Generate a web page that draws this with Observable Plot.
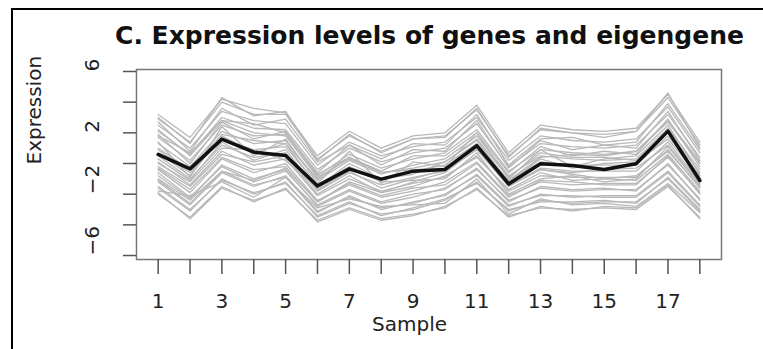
<!DOCTYPE html>
<html>
<head>
<meta charset="utf-8">
<script src="https://cdn.jsdelivr.net/npm/d3@7"></script>
<script src="https://cdn.jsdelivr.net/npm/@observablehq/plot@0.6"></script>
<style>
  html, body { margin: 0; padding: 0; background: #fff; }
  #wrap { position: relative; width: 763px; height: 349px; overflow: hidden; background: #fff; }
  #title { position: absolute; left: 429.5px; top: 21px; transform: translateX(-50%); white-space: nowrap;
           font: bold 25px/30px "DejaVu Sans", sans-serif; color: #111; }
  #chart { position: absolute; left: 0; top: 0; }
  .frame-top { position: absolute; left: 11px; top: 8px; width: 760px; height: 0; border-top: 2.5px solid #000; }
  .frame-left { position: absolute; left: 11px; top: 8px; width: 0; height: 360px; border-left: 2.5px solid #000; }
</style>
</head>
<body>
<div id="wrap">
  <div id="chart"></div>
  <div id="title">C. Expression levels of genes and eigengene</div>
  <div class="frame-top"></div>
  <div class="frame-left"></div>
</div>
<script>
const samples = [1,2,3,4,5,6,7,8,9,10,11,12,13,14,15,16,17,18];
const xTickLabels = [1,3,5,7,9,11,13,15,17];
const yTicks = [-6,-4,-2,0,2,4,6];
const yTickLabels = [6,2,-2,-6];
const eigengene = [0.59,-0.35,1.59,0.74,0.52,-1.46,-0.35,-1.02,-0.50,-0.39,1.17,-1.33,-0.02,-0.13,-0.39,-0.02,2.11,-1.11];
const genes = [
  [3.2,1.7,4.2,3.6,3.3,0.5,2.1,1.0,1.8,2.0,3.8,0.7,2.5,2.2,2.1,2.3,4.5,1.4],
  [3.0,1.3,4.3,3.1,3.4,0.2,1.9,0.7,1.6,1.7,3.6,0.4,2.3,2.0,1.7,2.1,4.6,1.0],
  [2.9,1.4,4.0,3.2,3.2,0.3,1.8,0.8,1.6,1.8,3.5,0.5,2.2,2.0,1.9,2.1,4.3,1.2],
  [2.5,1.0,3.4,2.8,2.6,-0.1,1.4,0.5,1.1,1.4,3.0,0.2,1.8,1.5,1.4,1.6,3.7,0.7],
  [2.7,0.8,3.6,2.5,2.9,0.1,1.2,0.3,1.3,1.2,3.2,-0.1,1.6,1.7,1.2,1.4,3.9,0.9],
  [2.1,0.6,3.0,2.3,2.2,-0.4,1.0,0.1,0.7,1.0,2.6,-0.2,1.3,1.1,1.0,1.2,3.2,0.4],
  [1.8,0.7,2.8,2.6,2.0,-0.6,1.2,-0.1,0.9,0.8,2.8,-0.3,1.5,0.9,1.2,1.0,3.4,0.2],
  [1.7,0.2,2.5,1.8,1.9,-0.8,0.6,-0.3,0.3,0.7,2.2,-0.5,0.9,0.7,0.6,0.8,2.7,0.0],
  [1.9,0.0,2.7,1.6,2.1,-0.7,0.4,-0.5,0.5,0.5,2.0,-0.6,1.1,0.5,0.8,0.6,2.9,-0.2],
  [1.3,-0.2,2.1,1.3,1.5,-1.1,0.2,-0.7,-0.1,0.3,1.8,-0.8,0.5,0.3,0.2,0.3,2.3,-0.4],
  [1.0,-0.4,1.9,1.5,1.3,-1.0,0.4,-0.6,-0.3,0.1,1.6,-0.9,0.7,0.4,0.4,0.2,2.1,-0.6],
  [0.9,-0.6,1.6,0.9,1.1,-1.4,-0.2,-1.1,-0.5,-0.1,1.3,-1.1,0.1,-0.1,-0.1,-0.1,1.8,-0.8],
  [0.7,-0.8,1.8,0.7,1.3,-1.5,0.0,-1.0,-0.7,0.1,1.5,-1.2,0.3,-0.3,0.0,0.1,1.6,-0.9],
  [0.5,-1.0,1.2,0.4,0.7,-1.8,-0.6,-1.4,-0.9,-0.5,0.9,-1.5,-0.3,-0.5,-0.5,-0.5,1.4,-1.2],
  [0.3,-1.1,1.4,0.2,0.9,-1.7,-0.5,-1.6,-1.0,-0.4,1.1,-1.4,-0.4,-0.6,-0.4,-0.3,1.2,-1.3],
  [0.1,-1.4,0.8,-0.1,0.3,-2.1,-1.0,-1.8,-1.3,-0.9,0.5,-1.8,-0.8,-0.9,-0.9,-0.9,0.9,-1.6],
  [-0.2,-1.5,0.6,0.1,0.5,-2.0,-0.8,-1.9,-1.5,-0.8,0.4,-1.7,-0.6,-1.1,-1.0,-0.8,0.8,-1.5],
  [-0.4,-1.9,0.3,-0.6,0.0,-2.4,-1.4,-2.2,-1.8,-1.2,0.1,-2.1,-1.2,-1.4,-1.3,-1.3,0.4,-1.9],
  [-0.3,-1.7,0.4,-0.4,-0.2,-2.5,-1.3,-2.1,-1.6,-1.4,0.0,-2.2,-1.1,-1.2,-1.4,-1.4,0.5,-2.0],
  [-0.8,-2.3,-0.1,-1.0,-0.4,-2.8,-1.8,-2.6,-2.2,-1.6,-0.4,-2.4,-1.6,-1.8,-1.7,-1.7,-0.1,-2.3],
  [-0.6,-2.2,-0.2,-1.2,-0.5,-2.7,-1.7,-2.5,-2.0,-1.7,-0.3,-2.5,-1.5,-1.7,-1.6,-1.8,0.0,-2.4],
  [-1.2,-2.7,-0.6,-1.5,-0.8,-3.1,-2.2,-2.9,-2.6,-2.0,-0.8,-2.8,-2.0,-2.2,-2.1,-2.1,-0.5,-2.7],
  [-1.1,-2.6,-0.5,-1.4,-0.9,-3.2,-2.1,-3.0,-2.5,-2.1,-0.7,-2.7,-2.1,-2.1,-2.2,-2.2,-0.6,-2.8],
  [-1.6,-3.1,-1.0,-2.0,-1.2,-3.5,-2.6,-3.3,-3.0,-2.4,-1.2,-3.1,-2.4,-2.6,-2.5,-2.5,-1.0,-3.1],
  [-1.5,-3.0,-1.1,-1.9,-1.3,-3.4,-2.5,-3.4,-2.9,-2.3,-1.3,-3.0,-2.5,-2.5,-2.4,-2.6,-0.9,-3.0],
  [-2.0,-3.5,-1.5,-2.5,-1.6,-3.8,-3.0,-3.7,-3.4,-2.8,-1.7,-3.4,-2.9,-3.0,-2.9,-3.0,-1.5,-3.5],
  [-1.9,-3.6,-1.6,-2.4,-1.7,-3.7,-2.9,-3.6,-3.3,-2.9,-1.6,-3.5,-2.8,-3.1,-2.8,-2.9,-1.4,-3.6],
  [2.2,0.5,2.8,2.0,1.8,-0.9,0.3,-0.6,-0.4,-0.3,1.0,-1.5,-0.4,-0.7,-1.0,-1.1,0.6,-1.8],
  [-1.0,-2.4,-0.5,-1.1,-0.3,-2.5,-1.2,-1.9,-1.2,-0.6,1.0,-1.1,0.4,0.6,0.5,0.8,2.8,0.1],
  [1.4,-0.9,2.4,0.5,1.6,-1.3,0.8,-1.3,0.1,-0.2,2.0,-1.0,0.9,-0.2,0.3,0.5,2.5,-0.7],
  [-1.8,-2.1,-1.2,-2.2,-0.9,-2.9,-2.3,-2.8,-2.7,-2.6,-1.0,-3.3,-2.3,-2.7,-2.6,-2.8,-1.3,-3.2],
  [0.0,-1.2,1.0,0.9,0.2,-1.6,-0.3,-1.2,-1.1,-1.0,0.7,-2.0,-1.0,-0.8,-1.2,-1.0,1.1,-1.4]
];

const geneRows = genes.flatMap((vals, g) => vals.map((v, i) => ({gene: g, sample: samples[i], value: v})));
const eigenRows = eigengene.map((v, i) => ({sample: samples[i], value: v}));

const chart = Plot.plot({
  width: 763,
  height: 349,
  marginLeft: 136,
  marginRight: 42,
  marginTop: 69,
  marginBottom: 90,
  style: {fontFamily: "DejaVu Sans, sans-serif", fontSize: "20px", color: "#222", background: "transparent"},
  x: {domain: [0.32, 18.68]},
  y: {domain: [-6.26, 6.13]},
  marks: [
    Plot.line(geneRows, {x: "sample", y: "value", z: "gene", stroke: "#b8b8b8", strokeWidth: 1.3}),
    Plot.line(eigenRows, {x: "sample", y: "value", stroke: "#111", strokeWidth: 3.5}),
    Plot.frame({stroke: "#777", strokeWidth: 1.5}),
    Plot.axisX({ticks: samples, tickSize: 15, tickPadding: 19, stroke: "#555", strokeWidth: 1.5,
                tickFormat: d => xTickLabels.includes(d) ? String(d) : "", label: null, fill: "#222"}),
    Plot.axisY({ticks: yTicks, tickSize: 13, stroke: "#555", strokeWidth: 1.5, tickFormat: () => "", label: null}),
    Plot.text(yTickLabels, {y: d => d, text: d => d < 0 ? "\u2212" + Math.abs(d) : String(d), frameAnchor: "left", dx: -44, rotate: -90, fill: "#222"}),
    Plot.text(["Expression"], {frameAnchor: "left", dx: -102, rotate: -90, fill: "#222"}),
    Plot.text(["Sample"], {frameAnchor: "bottom", dy: 71.5, dx: -19.5, fill: "#222"})
  ]
});
document.getElementById("chart").appendChild(chart);
</script>
</body>
</html>
